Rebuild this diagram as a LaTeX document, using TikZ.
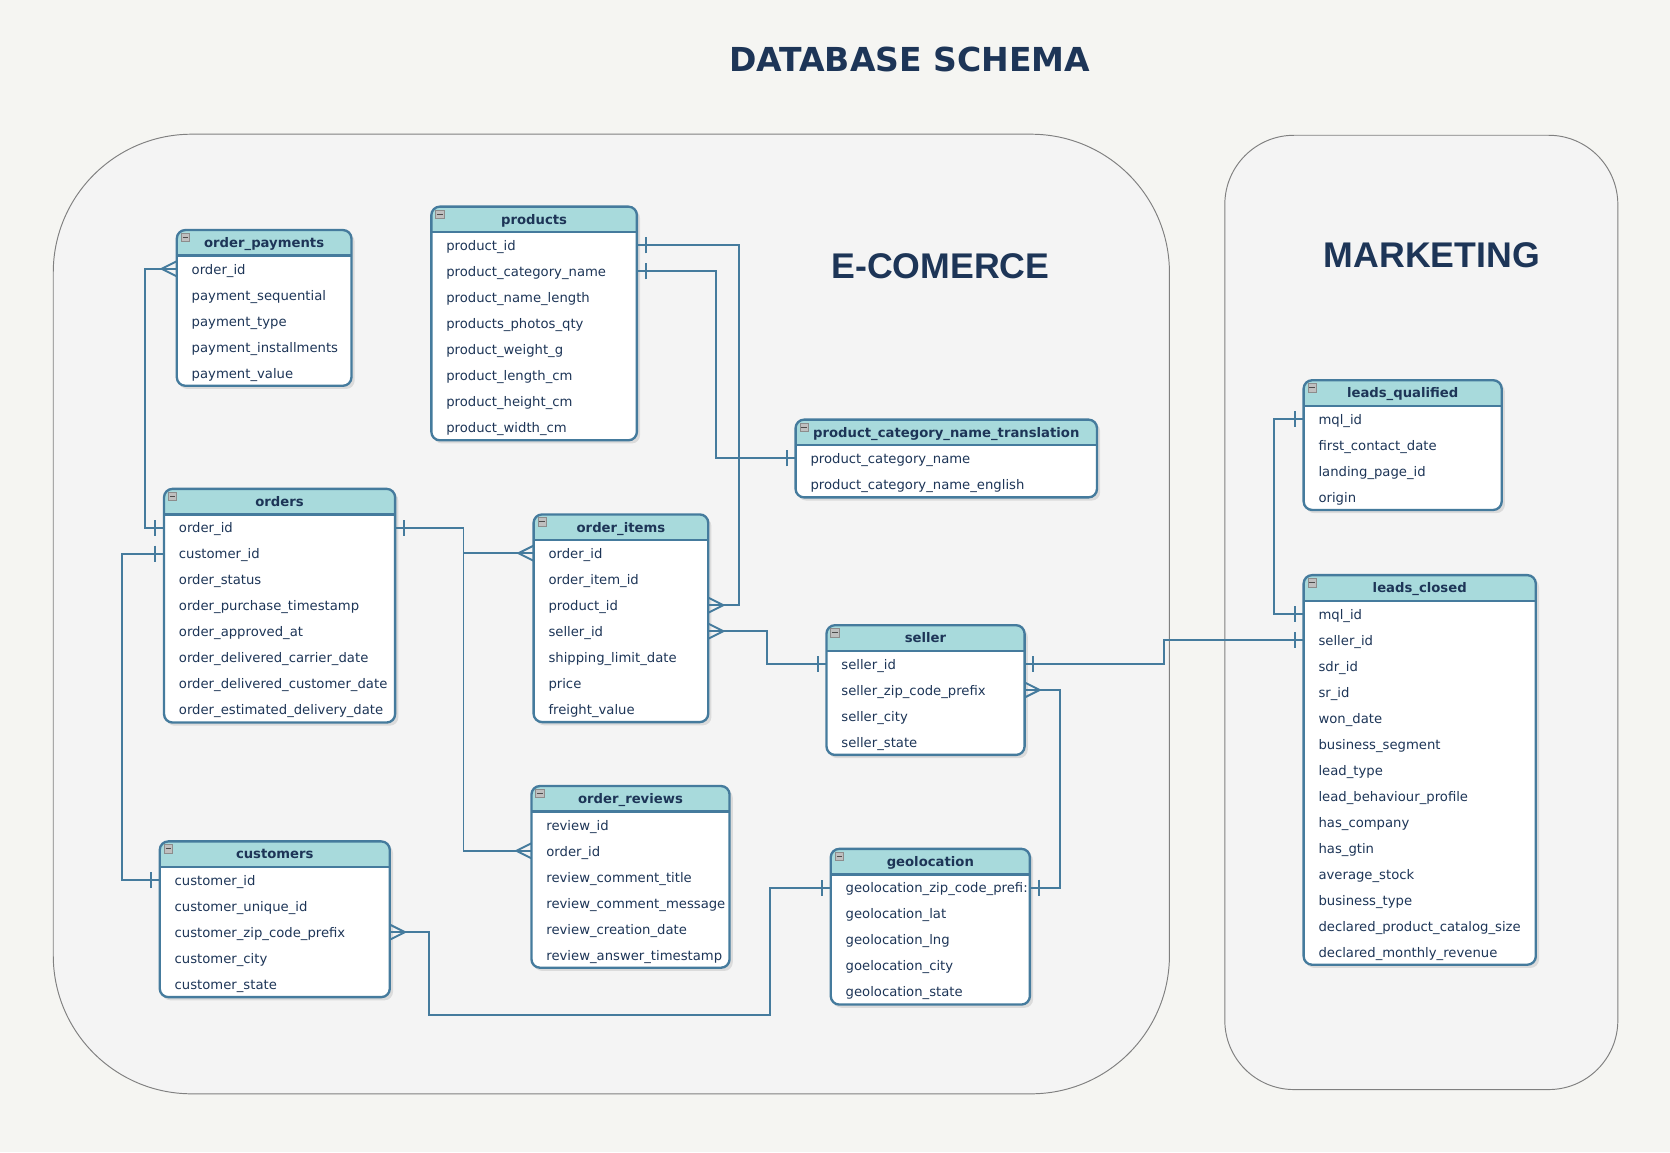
\documentclass[tikz,border=0pt]{standalone}
\usepackage{fontspec}
\setmainfont{DejaVu Sans}
\newfontfamily\labelfont{Liberation Sans}
\usetikzlibrary{decorations.markings}

\definecolor{ink}{HTML}{1D3557}
\definecolor{steel}{HTML}{457B9D}
\definecolor{aqua}{HTML}{A8DADC}
\definecolor{paper}{HTML}{F5F5F2}
\definecolor{panelbg}{HTML}{F4F4F4}

% table: name, centre x, header y, width, number of rows, title, fields
\newcommand{\dbtable}[7]{%
  \pgfmathsetmacro{\tbL}{#2-#4/2}%
  \pgfmathsetmacro{\tbR}{#2+#4/2}%
  \pgfmathsetmacro{\tbT}{#3-12}%
  \pgfmathsetmacro{\tbH}{#3+12}%
  \pgfmathsetmacro{\tbB}{#3+24.4*#5+12.2}%
  \pgfmathsetlengthmacro{\tbW}{#4-28}%
  \fill[tshadow] ({\tbL+2},{\tbT+3}) rectangle ({\tbR+3},{\tbB+3});
  \fill[white, rounded corners=8pt] (\tbL,\tbT) rectangle (\tbR,\tbB);
  \fill[aqua, rounded corners=8pt] (\tbL,\tbH) -- (\tbL,\tbT) -- (\tbR,\tbT) -- (\tbR,\tbH);
  \draw[tline] (\tbL,\tbH) -- (\tbR,\tbH);
  \draw[tline, rounded corners=8pt] (\tbL,\tbT) rectangle (\tbR,\tbB);
  \draw[minusbox] ({\tbL+4},{\tbT+3}) rectangle ++(8,8);
  \draw[black!70, line width=1pt] ({\tbL+5.5},{\tbT+7}) -- ++(5,0);
  \node[ttitle] (#1) at (#2,#3) {#6};
  \foreach \f [count=\i] in {#7}
    \node[field, text width=\tbW] (#1-\i) at (#2,{#3+24.4*\i}) {\f};
}

\begin{document}
\begin{tikzpicture}[
   x=1pt, y=-1pt,
   panel/.style={draw=black!50, line width=0.9pt, fill=panelbg},
   tline/.style={draw=steel, line width=2.2pt},
   tshadow/.style={black, opacity=0.10, rounded corners=8pt},
   minusbox/.style={draw=black!45, fill=black!25, line width=0.6pt},
   ttitle/.style={font=\bfseries\fontsize{12.4}{14}\selectfont, text=ink, inner sep=0pt, text height=10.5pt, text depth=1.5pt},
   field/.style={font=\fontsize{12.4}{14}\selectfont, text=ink, align=left, inner xsep=14pt, inner ysep=0pt, minimum height=24.4pt, text height=11pt, text depth=1pt},
   area/.style={font=\labelfont\bfseries\fontsize{33.5}{36}\selectfont, text=ink},
   rel/.style={draw=steel, line width=1.8pt},
   one start/.style={postaction={decorate, decoration={markings, mark=at position 8pt with {\draw[steel, line width=1.8pt] (0pt,-7.5pt) -- (0pt,7.5pt);}}}},
   one end/.style={postaction={decorate, decoration={markings, mark=at position -8pt with {\draw[steel, line width=1.8pt] (0pt,-7.5pt) -- (0pt,7.5pt);}}}},
   many start/.style={postaction={decorate, decoration={markings, mark=at position 14pt with {\draw[steel, line width=1.8pt] (-14pt,-7pt) -- (0pt,0pt) -- (-14pt,7pt);}}}},
   many end/.style={postaction={decorate, decoration={markings, mark=at position -14pt with {\draw[steel, line width=1.8pt] (14pt,-7pt) -- (0pt,0pt) -- (14pt,7pt);}}}}]

\fill[paper] (0,0) rectangle (1568,1082);
\useasboundingbox (0,0) rectangle (1568,1082);

% the two areas
\draw[panel, rounded corners=130pt] (50,126) rectangle (1098,1027);
\draw[panel, rounded corners=65pt] (1150,127) rectangle (1519,1023);

\node[font=\bfseries\fontsize{31}{34}\selectfont, text=ink] (title) at (854,56) {DATABASE SCHEMA};
\node[area] (ecom) at (883,250) {E-COMERCE};
\node[area] (mkt) at (1344.5,240) {MARKETING};

% tables
\dbtable{pay}{248}{228}{164}{5}{order\_payments}{order\_id, payment\_sequential, payment\_type, payment\_installments, payment\_value}
\dbtable{prd}{501.5}{206}{193}{8}{products}{product\_id, product\_category\_name, product\_name\_length, products\_photos\_qty, product\_weight\_g, product\_length\_cm, product\_height\_cm, product\_width\_cm}
\dbtable{tra}{888.5}{406}{283}{2}{product\_category\_name\_translation}{product\_category\_name, product\_category\_name\_english}
\dbtable{ord}{262.5}{471}{217}{8}{orders}{order\_id, customer\_id, order\_status, order\_purchase\_timestamp, order\_approved\_at, order\_delivered\_carrier\_date, order\_delivered\_customer\_date, order\_estimated\_delivery\_date}
\dbtable{itm}{583}{495}{164}{7}{order\_items}{order\_id, order\_item\_id, product\_id, seller\_id, shipping\_limit\_date, price, freight\_value}
\dbtable{sel}{869}{599}{186}{4}{seller}{seller\_id, seller\_zip\_code\_prefix, seller\_city, seller\_state}
\dbtable{rev}{592}{750}{186}{6}{order\_reviews}{review\_id, order\_id, review\_comment\_title, review\_comment\_message, review\_creation\_date, review\_answer\_timestamp}
\dbtable{cus}{258}{802}{216}{5}{customers}{customer\_id, customer\_unique\_id, customer\_zip\_code\_prefix, customer\_city, customer\_state}
\dbtable{geo}{873.5}{809}{187}{5}{geolocation}{geolocation\_zip\_code\_prefi:, geolocation\_lat, geolocation\_lng, goelocation\_city, geolocation\_state}
\dbtable{lqu}{1317}{369}{186}{4}{leads\_qualified}{mql\_id, first\_contact\_date, landing\_page\_id, origin}
\dbtable{lcl}{1333}{552}{218}{14}{leads\_closed}{mql\_id, seller\_id, sdr\_id, sr\_id, won\_date, business\_segment, lead\_type, lead\_behaviour\_profile, has\_company, has\_gtin, average\_stock, business\_type, declared\_product\_catalog\_size, declared\_monthly\_revenue}

% relations
\draw[rel, many start, one end] (pay-1.west) -- ++(-30,0) |- (ord-1.west);
\draw[rel, one start, one end] (ord-2.west) -- ++(-39,0) |- (cus-1.west);
\draw[rel, one start, many end] (ord-1.east) -- ++(64,0) |- (itm-1.west);
\draw[rel, many end] (ord-1.east) -- ++(64,0) |- (rev-2.west);
\draw[rel, one start, many end] (prd-1.east) -- ++(96,0) |- (itm-3.east);
\draw[rel, one start, one end] (prd-2.east) -- ++(74,0) |- (tra-1.west);
\draw[rel, many start, one end] (itm-4.east) -- ++(55,0) |- (sel-1.west);
\draw[rel, one start, one end] (sel-1.east) -- ++(131,0) |- (lcl-2.west);
\draw[rel, many start, one end] (sel-2.east) -- ++(33,0) |- (geo-1.east);
\draw[rel, many start, one end] (cus-3.east) -- ++(37,0) -- ++(0,77.5) -| ([xshift=-57pt]geo-1.west) -- (geo-1.west);
\draw[rel, one start, one end] (lqu-1.west) -- ++(-28,0) |- (lcl-1.west);
\end{tikzpicture}
\end{document}
